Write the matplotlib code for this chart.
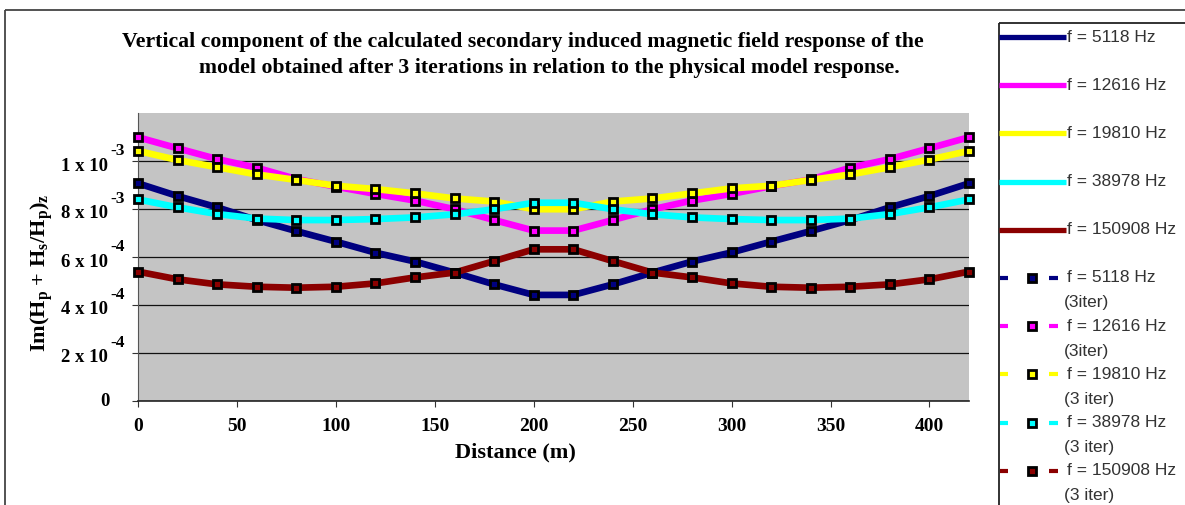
import numpy as np
import matplotlib
matplotlib.use("Agg")
import matplotlib.pyplot as plt
import matplotlib.transforms as mtransforms
from matplotlib.patches import Rectangle

# distance along profile (m)
distance = list(range(0, 421, 20))

# Im(Hp + Hs/Hp)z in units of 1e-4
h_5118 = [9.07, 8.54, 8.07, 7.54, 7.08, 6.64, 6.18, 5.81, 5.35, 4.86, 4.42,
          4.42, 4.86, 5.35, 5.81, 6.19, 6.64, 7.08, 7.54, 8.07, 8.54, 9.07]
h_12616 = [10.99, 10.53, 10.08, 9.72, 9.25, 8.93, 8.63, 8.35, 7.99, 7.54, 7.10,
           7.10, 7.54, 7.99, 8.35, 8.63, 8.95, 9.23, 9.72, 10.08, 10.53, 10.99]
h_19810 = [10.42, 10.04, 9.74, 9.44, 9.21, 8.97, 8.83, 8.65, 8.44, 8.31, 7.99,
           7.99, 8.31, 8.44, 8.65, 8.86, 8.97, 9.21, 9.44, 9.74, 10.06, 10.42]
h_38978 = [8.40, 8.07, 7.79, 7.60, 7.54, 7.54, 7.58, 7.65, 7.78, 7.99, 8.26,
           8.26, 7.99, 7.78, 7.65, 7.58, 7.54, 7.54, 7.60, 7.79, 8.07, 8.40]
h_150908 = [5.39, 5.07, 4.86, 4.76, 4.72, 4.76, 4.90, 5.15, 5.35, 5.83, 6.32,
            6.32, 5.83, 5.35, 5.15, 4.90, 4.76, 4.72, 4.76, 4.86, 5.07, 5.39]

# 3-iteration model response (markers sit on the physical model curves)
it_5118 = h_5118
it_12616 = h_12616
it_19810 = h_19810
it_38978 = h_38978
it_150908 = h_150908

freqs = ["5118", "12616", "19810", "38978", "150908"]
colors = ["#000080", "#ff00ff", "#ffff00", "#00ffff", "#8b0000"]
model = [h_5118, h_12616, h_19810, h_38978, h_150908]
iters = [it_5118, it_12616, it_19810, it_38978, it_150908]

yticks = [0, 2e-4, 4e-4, 6e-4, 8e-4, 1e-3]
ytick_base = ["0", "2 x 10", "4 x 10", "6 x 10", "8 x 10", "1 x 10"]
ytick_exp = ["", "-4", "-4", "-4", "-3", "-3"]
xticks = [0, 50, 100, 150, 200, 250, 300, 350, 400]

W, H = 1185, 505
fig = plt.figure(figsize=(W / 100, H / 100), dpi=100)
serif = "Liberation Serif"
sans = "Liberation Sans"

ax = fig.add_axes([138 / W, 1 - 401 / H, (969 - 138) / W, (401 - 113) / H])
ax.set_facecolor("#c4c4c4")
x = np.array(distance)
for vals, c in zip(model, colors):
    ax.plot(x, np.array(vals) * 1e-4, color=c, lw=4.8, zorder=3,
            solid_capstyle="butt", clip_on=False)
for vals, c in zip(iters, colors):
    ax.plot(x, np.array(vals) * 1e-4, ls="none", marker="s", ms=5.2,
            mfc=c, mec="black", mew=2.0, zorder=4, clip_on=False)

ax.set_xlim(0, 420)
ax.set_ylim(0, 12e-4)
ax.set_xticks(xticks)
ax.set_xticklabels([str(t) for t in xticks], fontfamily=serif,
                   fontweight="bold", fontsize=14)
ax.set_yticks(yticks)
ax.set_yticklabels([])
ax.tick_params(axis="x", direction="out", length=4, pad=8, color="#333")
ax.tick_params(axis="y", direction="out", length=4, color="#333")
ax.yaxis.grid(True, color="#111", lw=0.9)
ax.set_axisbelow(True)
for s in ["top", "right"]:
    ax.spines[s].set_visible(False)
ax.spines["left"].set_color("#555")
ax.spines["bottom"].set_color("#222")
ax.spines["bottom"].set_linewidth(1.2)

# y tick labels with raised exponents
ytr = ax.get_yaxis_transform()
for t, base, ex in zip(yticks, ytick_base, ytick_exp):
    if ex:
        ax.text(0, t, base, ha="right", va="center", fontfamily=serif,
                fontweight="bold", fontsize=13.5,
                transform=mtransforms.offset_copy(ytr, fig=fig, x=-30, y=-5, units="dots"))
        ax.text(0, t, ex, ha="left", va="center", fontfamily=serif,
                fontweight="bold", fontsize=12.5,
                transform=mtransforms.offset_copy(ytr, fig=fig, x=-28, y=10, units="dots"))
    else:
        ax.text(0, t, base, ha="right", va="center", fontfamily=serif,
                fontweight="bold", fontsize=13.5,
                transform=mtransforms.offset_copy(ytr, fig=fig, x=-28, y=0, units="dots"))

fig.text(515 / W, 1 - 452 / H, "Distance (m)", ha="center", va="center",
         fontfamily=serif, fontweight="bold", fontsize=16)
fig.text(42 / W, 1 - 273 / H,
         r"Im(H$_\mathregular{p}$ + H$_\mathregular{s}$/H$_\mathregular{p}$)$_\mathregular{z}$",
         rotation=90, ha="center", va="center", fontfamily=serif,
         fontweight="bold", fontsize=16)

fig.text(523 / W, 1 - 42 / H,
         "Vertical component of the calculated secondary induced magnetic field response of the",
         ha="center", va="center", fontfamily=serif, fontweight="bold", fontsize=15.7)
fig.text(549 / W, 1 - 68 / H,
         "model obtained after 3 iterations in relation to the physical model response.",
         ha="center", va="center", fontfamily=serif, fontweight="bold", fontsize=15.7)

# overlay in pixel coordinates for frames and legend
lax = fig.add_axes([0, 0, 1, 1], zorder=-1)
lax.set_xlim(0, W)
lax.set_ylim(H, 0)
lax.axis("off")
lax.add_patch(Rectangle((5, 10), W + 20, H + 20, fill=False, ec="#444", lw=1.3))
lax.add_patch(Rectangle((999, 23), W + 20, H + 20, fill=False, ec="#222", lw=1.3))

lax2 = fig.add_axes([0, 0, 1, 1], zorder=5)
lax2.set_xlim(0, W)
lax2.set_ylim(H, 0)
lax2.axis("off")
row0, step = 37, 48.2
for i, (f, c) in enumerate(zip(freqs, colors)):
    y = row0 + i * step
    lax2.plot([999, 1066], [y, y], color=c, lw=3.8, solid_capstyle="butt")
    lax2.text(1067, y, f"f = {f} Hz", ha="left", va="center",
              fontfamily=sans, fontsize=12.5, color="#333")
for i, (f, c) in enumerate(zip(freqs, colors)):
    y = row0 + (i + 5) * step
    lax2.plot([1000, 1008], [y, y], color=c, lw=3, solid_capstyle="butt")
    lax2.plot([1049, 1058], [y, y], color=c, lw=3, solid_capstyle="butt")
    lax2.plot([1032], [y], marker="s", ms=5.2, mfc=c, mec="black", mew=2.0)
    lax2.text(1067, y, f"f = {f} Hz", ha="left", va="center",
              fontfamily=sans, fontsize=12.5, color="#333")
    lax2.text(1064, y + 25, "(3iter)" if i < 2 else "(3 iter)", ha="left", va="center",
              fontfamily=sans, fontsize=12.5, color="#333")

fig.savefig("out.png", dpi=100)
